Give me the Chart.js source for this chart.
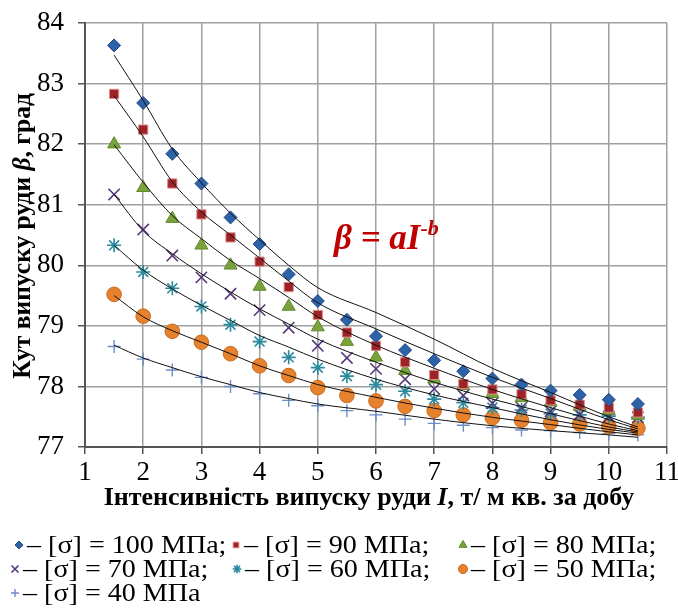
<!DOCTYPE html>
<html><head><meta charset="utf-8">
<script src="https://cdn.jsdelivr.net/npm/chart.js@4.4.0/dist/chart.umd.min.js"></script>
<style>
body{margin:0;background:#fff;}
#wrap{position:relative;width:678px;height:608px;overflow:hidden;font-family:"Liberation Serif","Times New Roman",serif;color:#000;}
#c{position:absolute;left:0;top:0;}
.ov{position:absolute;white-space:nowrap;line-height:1;}
#xt{font-weight:bold;font-size:26px;left:0;width:738px;text-align:center;top:484px;}
#yt{font-weight:bold;font-size:25.5px;width:500px;text-align:center;left:-228px;top:223px;height:26px;transform:rotate(-90deg);transform-origin:center center;}
#eq{color:#c00000;font-weight:bold;font-style:italic;font-size:35px;left:334px;top:220px;}
#eq sup{font-size:22px;vertical-align:top;position:relative;top:-3px;}
.lg{position:absolute;font-size:26px;white-space:nowrap;line-height:1;transform:scaleX(1.08);transform-origin:left center;}
.mk{position:absolute;}
</style></head>
<body><div id="wrap">
<canvas id="c" width="678" height="608"></canvas>
<div id="yt" class="ov">Кут випуску руди <i>β</i>, град</div>
<div id="xt" class="ov">Інтенсивність випуску руди <i>I</i>, т/ м кв. за добу</div>
<div id="eq" class="ov">β = aI<sup>-b</sup></div>
<div id="legend"></div>
</div>
<script>
// ---- data ----
const intensity = [1.5,2,2.5,3,3.5,4,4.5,5,5.5,6,6.5,7,7.5,8,8.5,9,9.5,10,10.5];
const s100 = [83.63,82.68,81.84,81.35,80.79,80.35,79.85,79.41,79.10,78.83,78.60,78.43,78.25,78.13,78.03,77.93,77.86,77.78,77.71];
const s90  = [82.83,82.24,81.35,80.84,80.46,80.06,79.64,79.18,78.89,78.67,78.40,78.19,78.04,77.95,77.87,77.77,77.70,77.65,77.57];
const s80  = [82.00,81.28,80.77,80.33,80.00,79.65,79.32,78.98,78.74,78.48,78.26,78.12,78.01,77.88,77.81,77.74,77.67,77.60,77.52];
const s70  = [81.17,80.59,80.16,79.80,79.53,79.26,78.97,78.67,78.47,78.29,78.12,77.96,77.85,77.72,77.65,77.59,77.54,77.50,77.49];
const s60  = [80.33,79.89,79.62,79.32,79.02,78.74,78.48,78.31,78.17,78.03,77.92,77.79,77.73,77.65,77.61,77.55,77.53,77.51,77.49];
const s50  = [79.52,79.16,78.91,78.73,78.54,78.34,78.18,77.98,77.85,77.76,77.67,77.60,77.53,77.48,77.44,77.40,77.38,77.34,77.31];
const s40  = [78.66,78.45,78.27,78.15,78.00,77.88,77.77,77.68,77.60,77.53,77.46,77.39,77.36,77.32,77.28,77.27,77.24,77.22,77.20];

// trend curves (β = aI^-b)
const trendX = [1.5,2,2.5,3,3.5,4,4.5,5,6,7,8,9,10,10.5];
const t100 = [83.47,82.72,81.92,81.36,80.86,80.42,80.00,79.63,79.22,78.78,78.30,77.90,77.50,77.33];
const t90  = [82.80,82.12,81.38,80.88,80.50,80.12,79.74,79.38,78.95,78.54,78.15,77.80,77.45,77.30];
const t80  = [81.99,81.37,80.82,80.44,80.08,79.78,79.47,79.15,78.68,78.30,77.95,77.65,77.38,77.27];
const t70  = [81.17,80.57,80.19,79.86,79.56,79.28,79.03,78.78,78.40,78.07,77.79,77.55,77.33,77.25];
const t60  = [80.33,79.92,79.61,79.34,79.09,78.84,78.65,78.45,78.12,77.86,77.65,77.45,77.29,77.23];
const t50  = [79.50,79.15,78.92,78.73,78.54,78.34,78.18,78.03,77.82,77.64,77.49,77.37,77.25,77.20];
const t40  = [78.68,78.47,78.31,78.16,78.03,77.90,77.80,77.71,77.59,77.46,77.35,77.27,77.20,77.16];

const seriesLabels = ['– [σ] = 100 МПа;','– [σ] = 90 МПа;','– [σ] = 80 МПа;','– [σ] = 70 МПа;','– [σ] = 60 МПа;','– [σ] = 50 МПа;','– [σ] = 40 МПа'];
const xTicks = [1,2,3,4,5,6,7,8,9,10,11];
const yTicks = [77,78,79,80,81,82,83,84];

// ---- styles ----
const styles = [
  {pointStyle:'rectRot', radius:6.5, bg:'#2e62a6', border:'#1c4a86', bw:1},
  {pointStyle:'rect', radius:6.5, bg:'#9c2326', border:'#e08a8a', bw:1},
  {pointStyle:'triangle', radius:7.5, bg:'#7aa33c', border:'#5f8a2c', bw:1},
  {pointStyle:'crossRot', radius:8, bg:'#55377a', border:'#55377a', bw:1.6},
  {pointStyle:'star', radius:7, bg:'#2b8a9e', border:'#2b8a9e', bw:1.6},
  {pointStyle:'circle', radius:7.3, bg:'#e6822e', border:'#c8691c', bw:1},
  {pointStyle:'cross', radius:6.5, bg:'#6d8dc6', border:'#6d8dc6', bw:1.4}
];
const seriesVals = [s100,s90,s80,s70,s60,s50,s40];
const trendVals = [t100,t90,t80,t70,t60,t50,t40];

const datasets = [];
seriesVals.forEach((vals,i)=>{
  const st = styles[i];
  datasets.push({
    label: seriesLabels[i],
    data: intensity.map((x,k)=>({x:x,y:vals[k]})),
    showLine:false,
    pointStyle: st.pointStyle,
    pointRadius: st.radius,
    pointBackgroundColor: st.bg,
    pointBorderColor: st.border,
    pointBorderWidth: st.bw,
    order: 1
  });
});
trendVals.forEach((vals,i)=>{
  datasets.push({
    label: 'trend '+i,
    data: trendX.map((x,k)=>({x:x,y:vals[k]})),
    showLine:true,
    pointRadius:0,
    borderColor:'#111',
    borderWidth:1,
    cubicInterpolationMode:'monotone',
    order: 0
  });
});

const tickFont = {family:'"Liberation Serif", "Times New Roman", serif', size:27};
new Chart(document.getElementById('c'), {
  type:'scatter',
  data:{datasets},
  options:{
    responsive:false,
    animation:false,
    devicePixelRatio:1,
    layout:{padding:{left:0,right:11,top:23,bottom:0}},
    plugins:{legend:{display:false},tooltip:{enabled:false}},
    scales:{
      x:{
        type:'linear', min:1, max:11,
        afterBuildTicks:(s)=>{s.ticks = xTicks.map(v=>({value:v}));},
        afterFit:(s)=>{s.height = 161; s.paddingLeft = 0; s.paddingRight = 0;},
        ticks:{font:tickFont,color:'#000',padding:3,maxRotation:0,autoSkip:false},
        grid:{color:'#a0a0a0',lineWidth:1.5,tickLength:7,tickColor:'#555'},
        border:{color:'#555',width:2}
      },
      y:{
        type:'linear', min:77, max:84,
        afterBuildTicks:(s)=>{s.ticks = yTicks.map(v=>({value:v}));},
        afterFit:(s)=>{s.width = 85; s.paddingTop = 0; s.paddingBottom = 0;},
        ticks:{font:tickFont,color:'#000',padding:14,autoSkip:false},
        grid:{color:'#a0a0a0',lineWidth:1.5,tickLength:7,tickColor:'#555'},
        border:{color:'#555',width:2}
      }
    }
  }
});

// ---- HTML legend ----
const legendPos = [[19,545],[236,545],[463,545],[15,569],[237,569],[463,569],[15,593]];
const lg = document.getElementById('legend');
legendPos.forEach((p,i)=>{
  const st = styles[i];
  const cv = document.createElement('canvas');
  cv.width=16; cv.height=16; cv.className='mk';
  cv.style.left=(p[0]-8)+'px'; cv.style.top=(p[1]-8)+'px';
  lg.appendChild(cv);
  const ctx = cv.getContext('2d');
  ctx.fillStyle = st.bg; ctx.strokeStyle = st.border; ctx.lineWidth = st.bw;
  Chart.helpers.drawPoint(ctx,{pointStyle:st.pointStyle,radius:st.radius*0.62,rotation:0,borderWidth:st.bw},8,8);
  const d = document.createElement('div');
  d.className='lg'; d.textContent = seriesLabels[i];
  d.style.left=(p[0]+8)+'px'; d.style.top=(p[1]-13)+'px';
  lg.appendChild(d);
});
</script>
</body></html>
